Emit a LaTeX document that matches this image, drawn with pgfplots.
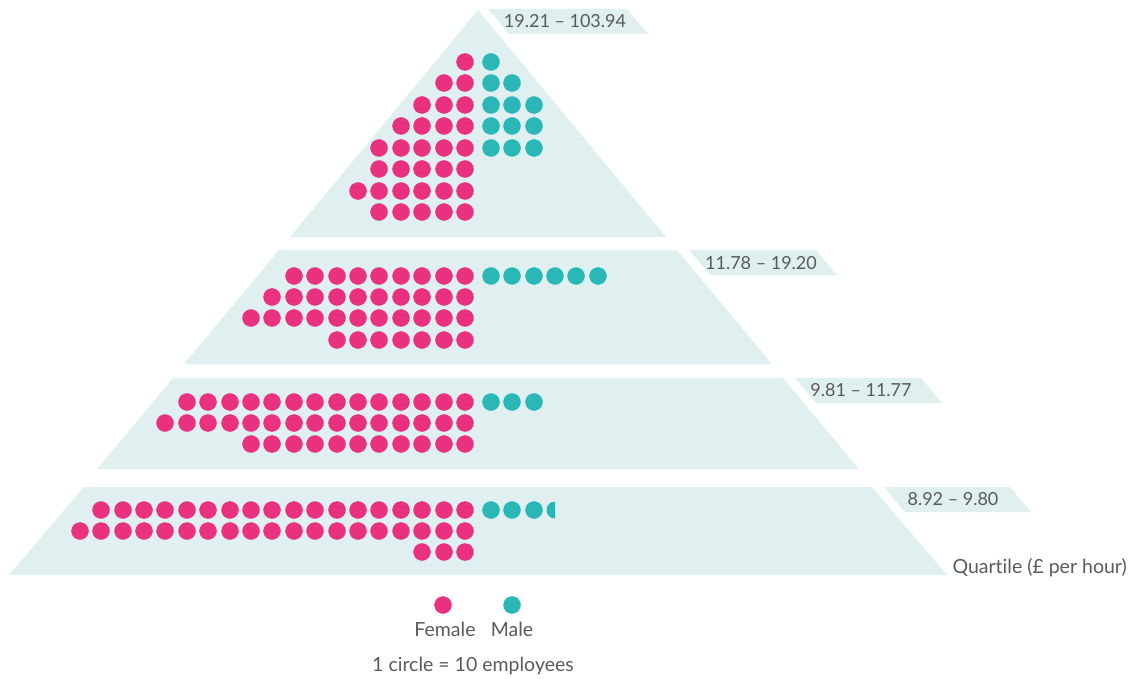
\documentclass[border=0pt]{standalone}
\usepackage{pgfplots}
\pgfplotsset{compat=1.18}
\usepackage{fontspec}
\setmainfont{Lato}[Ligatures=NoCommon]
\definecolor{fem}{HTML}{E93180}
\definecolor{mal}{HTML}{2BB6B8}
\definecolor{bgc}{HTML}{E0F0F1}
\definecolor{txt}{HTML}{5A5A5A}
% left half of a circle, for the part-circle in the lowest quartile
\pgfdeclareplotmark{halfcirc}{%
  \pgfpathmoveto{\pgfqpoint{0pt}{\pgfplotmarksize}}%
  \pgfpatharc{90}{270}{\pgfplotmarksize}%
  \pgfpathclose\pgfusepathqfill}
\tikzset{
  lbl/.style={text=txt, inner sep=0pt, font=\fontsize{19.5}{22}\selectfont},
  qlbl/.style={text=txt, inner sep=0pt, font=\fontsize{18}{21}\selectfont},
}
\begin{document}
\begin{tikzpicture}
\begin{axis}[
    x=1pt, y=1pt,
    xmin=0, xmax=1132, ymin=0, ymax=679,
    y dir=reverse,
    hide axis,
    clip=false,
  ]
  % pyramid tiers
  \fill[bgc] (axis cs:478,10) -- (axis cs:666,237) -- (axis cs:290,237) -- cycle;
  \fill[bgc] (axis cs:279,250) -- (axis cs:677,250) -- (axis cs:772,364) -- (axis cs:184,364) -- cycle;
  \fill[bgc] (axis cs:173,378) -- (axis cs:783,378) -- (axis cs:859,469) -- (axis cs:97,469) -- cycle;
  \fill[bgc] (axis cs:84,487) -- (axis cs:872,487) -- (axis cs:947,575) -- (axis cs:9,575) -- cycle;
  % quartile label boxes
  \fill[bgc] (axis cs:488,9) -- (axis cs:627,9) -- (axis cs:648,34) -- (axis cs:509,34) -- cycle;
  \fill[bgc] (axis cs:689,250) -- (axis cs:816,250) -- (axis cs:837,275) -- (axis cs:710,275) -- cycle;
  \fill[bgc] (axis cs:795,378) -- (axis cs:921,378) -- (axis cs:942,403) -- (axis cs:816,403) -- cycle;
  \fill[bgc] (axis cs:884,487) -- (axis cs:1010,487) -- (axis cs:1031,512) -- (axis cs:905,512) -- cycle;

  % female circles (1 circle = 10 employees)
  \addplot[only marks, mark=*, mark size=8.5pt, color=fem, mark options={draw=none}] coordinates {
    % 19.21 - 103.94
    (465,62)
    (465,83) (444,83)
    (465,105) (444,105) (422,105)
    (465,126) (444,126) (422,126) (401,126)
    (465,148) (444,148) (422,148) (401,148) (379,148)
    (465,169) (444,169) (422,169) (401,169) (379,169)
    (465,191) (444,191) (422,191) (401,191) (379,191) (358,191)
    (465,212) (444,212) (422,212) (401,212) (379,212)
    % 11.78 - 19.20
    (465,276) (444,276) (422,276) (401,276) (379,276) (358,276) (337,276) (315,276) (294,276)
    (465,297) (444,297) (422,297) (401,297) (379,297) (358,297) (337,297) (315,297) (294,297) (272,297)
    (465,318) (444,318) (422,318) (401,318) (379,318) (358,318) (337,318) (315,318) (294,318) (272,318) (251,318)
    (465,340) (444,340) (422,340) (401,340) (379,340) (358,340) (337,340)
    % 9.81 - 11.77
    (465,402) (444,402) (422,402) (401,402) (379,402) (358,402) (337,402) (315,402) (294,402) (272,402) (251,402) (230,402) (208,402) (187,402)
    (465,423) (444,423) (422,423) (401,423) (379,423) (358,423) (337,423) (315,423) (294,423) (272,423) (251,423) (230,423) (208,423) (187,423) (165,423)
    (465,444) (444,444) (422,444) (401,444) (379,444) (358,444) (337,444) (315,444) (294,444) (272,444) (251,444)
    % 8.92 - 9.80
    (465,510) (444,510) (422,510) (401,510) (379,510) (358,510) (337,510) (315,510) (294,510) (272,510) (251,510) (230,510) (208,510) (187,510) (165,510) (144,510) (123,510) (101,510)
    (465,531) (444,531) (422,531) (401,531) (379,531) (358,531) (337,531) (315,531) (294,531) (272,531) (251,531) (230,531) (208,531) (187,531) (165,531) (144,531) (123,531) (101,531) (80,531)
    (465,552) (444,552) (422,552)
  };
  % male circles
  \addplot[only marks, mark=*, mark size=8.5pt, color=mal, mark options={draw=none}] coordinates {
    (491,62)
    (491,83) (512,83)
    (491,105) (512,105) (534,105)
    (491,126) (512,126) (534,126)
    (491,148) (512,148) (534,148)
    (491,276) (512,276) (534,276) (555,276) (576,276) (598,276)
    (491,402) (512,402) (534,402)
    (491,510) (512,510) (534,510)
  };
  \addplot[only marks, mark=halfcirc, mark size=8.5pt, color=mal] coordinates {(555,510)};

  % legend glyphs
  \addplot[only marks, mark=*, mark size=8.5pt, color=fem, mark options={draw=none}] coordinates {(443,605)};
  \addplot[only marks, mark=*, mark size=8.5pt, color=mal, mark options={draw=none}] coordinates {(512,605)};

  % texts
  \node[qlbl] at (axis cs:565,21) {19.21 – 103.94};
  \node[qlbl] at (axis cs:761,263) {11.78 – 19.20};
  \node[qlbl] at (axis cs:861,390) {9.81 – 11.77};
  \node[qlbl] at (axis cs:953,499) {8.92 – 9.80};
  \node[lbl, anchor=east] at (axis cs:1127,568) {Quartile (£ per hour)};
  \node[lbl] at (axis cs:445,629) {Female};
  \node[lbl] at (axis cs:512,629) {Male};
  \node[lbl] at (axis cs:473,666) {1 circle = 10 employees};
\end{axis}
\pgfresetboundingbox
\path (0,0) rectangle (1132pt,679pt);
\end{tikzpicture}
\end{document}
